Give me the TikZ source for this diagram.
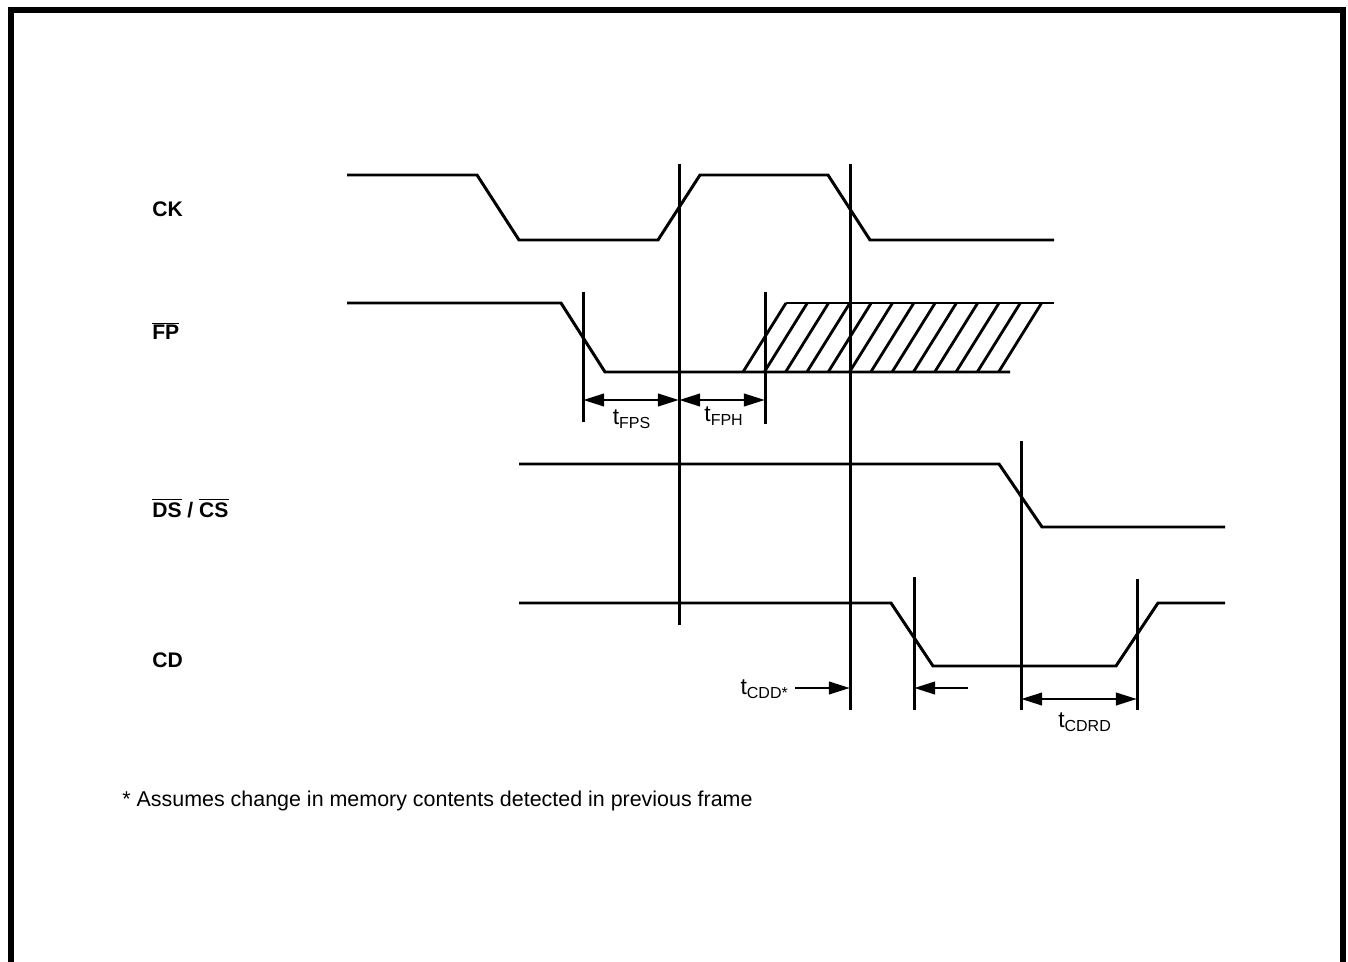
\documentclass[tikz,border=0pt]{standalone}
\usepackage{fontspec}
\setmainfont{Liberation Sans}
\usetikzlibrary{arrows.meta}

\begin{document}
\begin{tikzpicture}[x=0.02cm, y=-0.02cm, font=\fontsize{11}{13}\selectfont]
		% Styles
		\tikzset{
			wave/.style={line width=1.7pt, line join=miter},
			marker/.style={line width=1.7pt},
			hatch/.style={line width=1.6pt},
			dimline/.style={line width=1.7pt, {Triangle[length=12pt,width=7pt]}-{Triangle[length=12pt,width=7pt]}},
			oneway/.style={line width=1.7pt, -{Triangle[length=12pt,width=7pt]}},
			signame/.style={font=\fontsize{12}{14}\selectfont\bfseries, anchor=base west, inner sep=0pt},
			tlabel/.style={font=\fontsize{13}{15}\selectfont, inner sep=0pt}
		}
		\useasboundingbox (0,0) rectangle (1348,962);
		
		% Cadre
		\draw[line width=3.4pt] (11,962) -- (11,10) -- (1343,10) -- (1343,962);
		
		% Noms des signaux
		\node[signame] (ck) at (152,217) {CK};
		\node[signame] (fp) at (152,340) {$\overline{\mbox{\bfseries FP}}$};
		\node[signame] (ds) at (152,517) {$\overline{\mbox{\bfseries DS}}$ / $\overline{\mbox{\bfseries CS}}$};
		\node[signame] (cd) at (152,667) {CD};
		
		% Formes d'onde
		\draw[wave] (347,175) -- (477,175) -- (519,240) -- (658,240) -- (700,175)
			-- (828,175) -- (870,240) -- (1054,240);
		\draw[wave] (347,303) -- (561,303) -- (605,372) -- (1010,372);
		\draw[wave] (786,303) -- (1054,303);
		\draw[wave] (519,464) -- (999,464) -- (1042,527) -- (1225,527);
		\draw[wave] (519,603) -- (891,603) -- (933,666) -- (1116,666) -- (1158,603) -- (1225,603);
		
		% Zone indifferente
		\foreach \i in {0,...,12}
			\draw[hatch] ({743+\i*21.3},372) -- ++(43,-69);
		
		% Reperes verticaux
		\coordinate (a1) at (583,292);  \coordinate (a2) at (583,422);
		\coordinate (b1) at (679,164);  \coordinate (b2) at (679,625);
		\coordinate (c1) at (765,292);  \coordinate (c2) at (765,424);
		\coordinate (d1) at (850,164);  \coordinate (d2) at (850,710);
		\coordinate (e1) at (914,577);  \coordinate (e2) at (914,710);
		\coordinate (f1) at (1021,441); \coordinate (f2) at (1021,710);
		\coordinate (g1) at (1137,579); \coordinate (g2) at (1137,710);
		\foreach \m in {a,b,c,d,e,f,g}
			\draw[marker] (\m1) -- (\m2);
		
		% Cotes
		\coordinate (fpsL) at (583,400); \coordinate (fpsR) at (679,400);
		\coordinate (fphR) at (765,400);
		\draw[dimline] (fpsL) -- (fpsR);
		\draw[dimline] (fpsR) -- (fphR);
		\node[tlabel] (tfps) at (632,419) {t\textsubscript{FPS}};
		\node[tlabel] (tfph) at (724,416) {t\textsubscript{FPH}};
		
		\coordinate (cddA) at (795,688); \coordinate (cddB) at (850,688);
		\coordinate (cddC) at (968,688); \coordinate (cddD) at (914,688);
		\draw[oneway] (cddA) -- (cddB);
		\draw[oneway] (cddC) -- (cddD);
		\node[tlabel, anchor=east] (tcdd) at (789,689) {t\textsubscript{CDD*}};
		
		\coordinate (crdL) at (1021,699); \coordinate (crdR) at (1137,699);
		\draw[dimline] (crdL) -- (crdR);
		\node[tlabel] (tcdrd) at (1085,722) {t\textsubscript{CDRD}};
		
		% Note
		\node[anchor=base west, inner sep=0pt, font=\fontsize{12.2}{14}\selectfont] (note) at (122,806)
			{* Assumes change in memory contents detected in previous frame};
\end{tikzpicture}
\end{document}
